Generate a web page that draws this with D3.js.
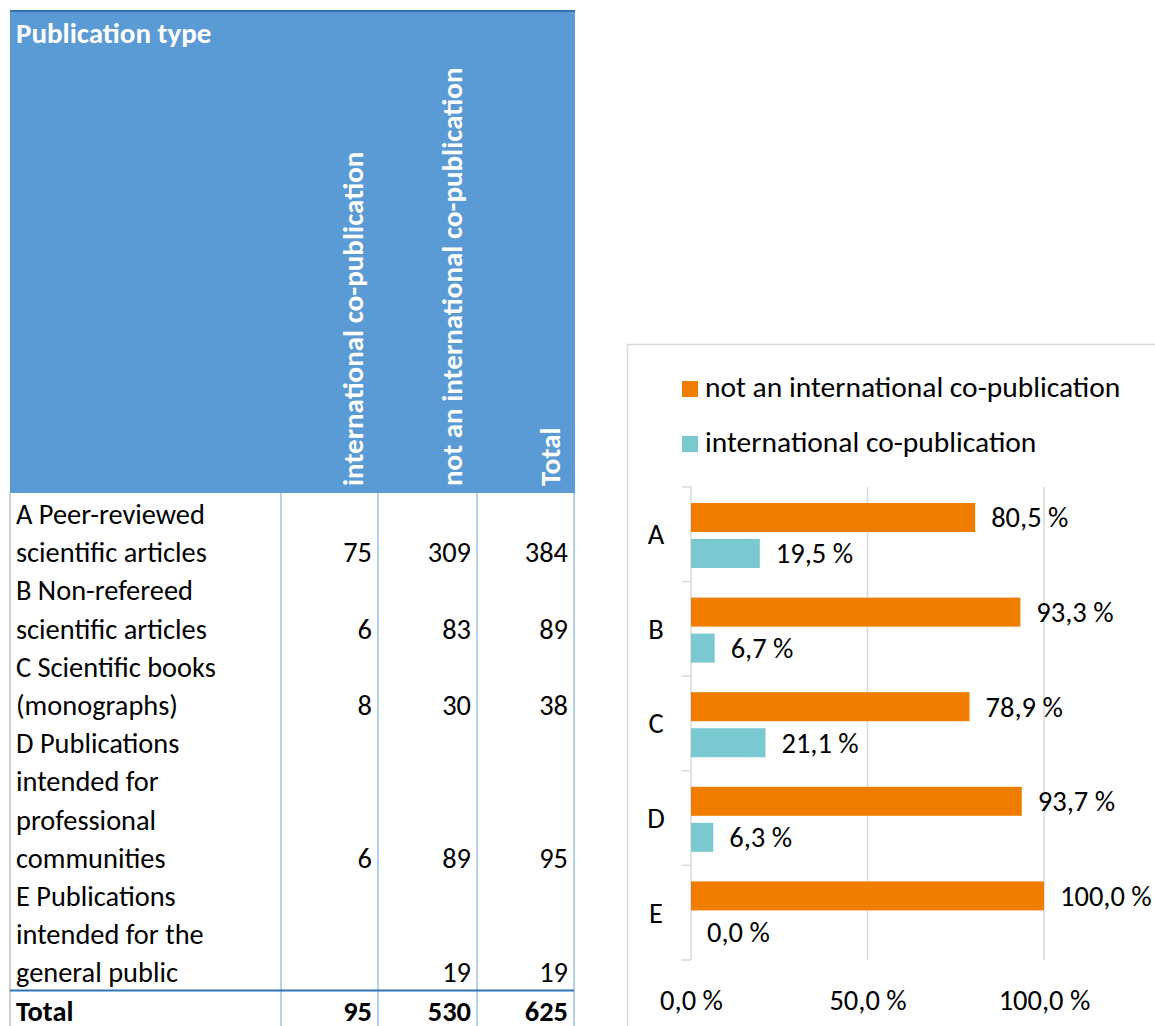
<!DOCTYPE html>
<html>
<head>
<meta charset="utf-8">
<script src="https://cdn.jsdelivr.net/npm/d3@7"></script>
<style>
html,body{margin:0;padding:0;background:#fff;}
svg{display:block;font-family:Carlito,Calibri,Lato,"Open Sans",sans-serif;}
</style>
</head>
<body>
<svg id="c" width="1155" height="1026"></svg>
<script>
// ---- data ----
const categories = ["A","B","C","D","E"];
const rowLabels = [
  ["A Peer-reviewed","scientific articles"],
  ["B Non-refereed","scientific articles"],
  ["C Scientific books","(monographs)"],
  ["D Publications","intended for","professional","communities"],
  ["E Publications","intended for the","general public"]
];
const columnHeaders = ["international co-publication","not an international co-publication","Total"];
const intlCounts = [75,6,8,6,null];
const notIntlCounts = [309,83,30,89,19];
const rowTotals = [384,89,38,95,19];
const totalRow = [95,530,625];
const seriesNames = ["not an international co-publication","international co-publication"];
const pctNotIntl = [80.5,93.3,78.9,93.7,100.0];
const pctIntl = [19.5,6.7,21.1,6.3,0.0];
const xTicks = [0,50,100];

const svg = d3.select("#c");
const fmtPct = v => d3.format(".1f")(v).replace(".", ",") + " %";
const FS_T = 28.4, FS_H = 29, FS_C = 28.5, FS_L = 29.5;

// ---- table ----
const T = {left:10, right:575, top:11, headBottom:493, lineH:38.2, firstTop:495};
const colLines = [281,378,477,574];
const headBaselines = [363,462,560];
const headerBlue = "#5B9BD5";
const t = svg.append("g");
t.append("rect").attr("x",T.left).attr("y",T.top).attr("width",T.right-T.left).attr("height",T.headBottom-T.top).attr("fill",headerBlue);
t.append("line").attr("x1",T.left).attr("x2",T.right).attr("y1",T.top).attr("y2",T.top).attr("stroke","#2E75B6").attr("stroke-width",2);
t.append("text").attr("x",16).attr("y",43).attr("fill","#fff").attr("font-weight","bold").attr("font-size",FS_H).text("Publication type");
columnHeaders.forEach((h,i)=>{
  t.append("text").attr("transform",`translate(${headBaselines[i]},486) rotate(-90)`)
   .attr("fill","#fff").attr("font-weight","bold").attr("font-size",FS_H).text(h);
});
// vertical lines
t.append("line").attr("x1",T.left).attr("x2",T.left).attr("y1",T.headBottom).attr("y2",1026).attr("stroke","#BFBFBF").attr("stroke-width",1.5);
colLines.forEach(x=>{
  t.append("line").attr("x1",x).attr("x2",x).attr("y1",T.headBottom).attr("y2",1026).attr("stroke","#9DC3E6").attr("stroke-width",1.5);
});
let lineIdx = 0;
const lineY = i => T.firstTop + (i+0.5)*T.lineH;
rowLabels.forEach((lines,r)=>{
  lines.forEach((s,k)=>{
    t.append("text").attr("x",16).attr("y",lineY(lineIdx+k)).attr("dy","0.35em").attr("font-size",FS_T).attr("fill","#000").text(s);
  });
  const yLast = lineY(lineIdx+lines.length-1);
  [intlCounts[r],notIntlCounts[r],rowTotals[r]].forEach((v,c)=>{
    if(v==null) return;
    t.append("text").attr("x",colLines[c+1]-6).attr("y",yLast).attr("dy","0.35em").attr("text-anchor","end").attr("font-size",FS_T).text(v);
  });
  lineIdx += lines.length;
});
const sepY = T.firstTop + lineIdx*T.lineH - 1;
t.append("line").attr("x1",T.left).attr("x2",T.right-1).attr("y1",sepY).attr("y2",sepY).attr("stroke","#2E75B6").attr("stroke-width",2);
t.append("text").attr("x",16).attr("y",lineY(lineIdx)).attr("dy","0.35em").attr("font-weight","bold").attr("font-size",FS_T).text("Total");
totalRow.forEach((v,c)=>{
  t.append("text").attr("x",colLines[c+1]-6).attr("y",lineY(lineIdx)).attr("dy","0.35em").attr("text-anchor","end").attr("font-weight","bold").attr("font-size",FS_T).text(v);
});

// ---- chart ----
const orange = "#F07D00", teal = "#7AC8D0";
const ch = svg.append("g");
ch.append("rect").attr("x",627.5).attr("y",344.5).attr("width",540).attr("height",700).attr("fill","#fff").attr("stroke","#D9D9D9").attr("stroke-width",1.5);

// legend
[[orange,seriesNames[0],397],[teal,seriesNames[1],452]].forEach(([c,n,yb])=>{
  ch.append("rect").attr("x",682).attr("y",yb-16).attr("width",16).attr("height",16).attr("fill",c);
  ch.append("text").attr("x",705).attr("y",yb).attr("font-size",FS_L).text(n);
});

const x = d3.scaleLinear().domain([0,100]).range([691,1044]);
const y = d3.scaleBand().domain(categories).range([487,960]);
const inner = d3.scaleBand().domain(["not","intl"]).range([16,81]).paddingInner(0.194);

// gridlines
xTicks.forEach(v=>{
  if(v===0) return;
  ch.append("line").attr("x1",x(v)).attr("x2",x(v)).attr("y1",487).attr("y2",960).attr("stroke","#D9D9D9").attr("stroke-width",1.5);
});
// y axis line and boundary ticks
ch.append("line").attr("x1",x(0)).attr("x2",x(0)).attr("y1",487).attr("y2",960).attr("stroke","#D9D9D9").attr("stroke-width",1.5);
const bounds = categories.map(c=>y(c)).concat([y.range()[1]]);
bounds.forEach(b=>{
  ch.append("line").attr("x1",x(0)-9).attr("x2",x(0)).attr("y1",b).attr("y2",b).attr("stroke","#D9D9D9").attr("stroke-width",1.5);
});
categories.forEach(c=>{
  ch.append("text").attr("x",656).attr("y",y(c)+y.bandwidth()/2).attr("dy","0.35em").attr("text-anchor","middle").attr("font-size",FS_C).text(c);
});

// bars
const data = categories.map((c,i)=>({c, not:pctNotIntl[i], intl:pctIntl[i]}));
const groups = ch.selectAll("g.cat").data(data).join("g").attr("class","cat").attr("transform",d=>`translate(0,${y(d.c)})`);
[["not",orange],["intl",teal]].forEach(([k,col])=>{
  groups.append("rect").attr("x",x(0)).attr("y",inner(k)).attr("height",inner.bandwidth())
    .attr("width",d=>Math.max(0,x(d[k])-x(0))).attr("fill",col);
  groups.append("text").attr("x",d=>x(d[k])+16).attr("y",inner(k)+inner.bandwidth()/2).attr("dy","0.35em")
    .attr("font-size",FS_C).text(d=>fmtPct(d[k]));
});

// x axis
const xAxis = d3.axisBottom(x).tickValues(xTicks).tickSize(0).tickPadding(0).tickFormat(fmtPct);
const xa = ch.append("g").attr("transform","translate(0,990)").call(xAxis);
xa.select(".domain").remove();
xa.selectAll("text").attr("font-size",FS_C).attr("fill","#000");
xa.attr("font-family",null).attr("font-size",null);
</script>
</body>
</html>
